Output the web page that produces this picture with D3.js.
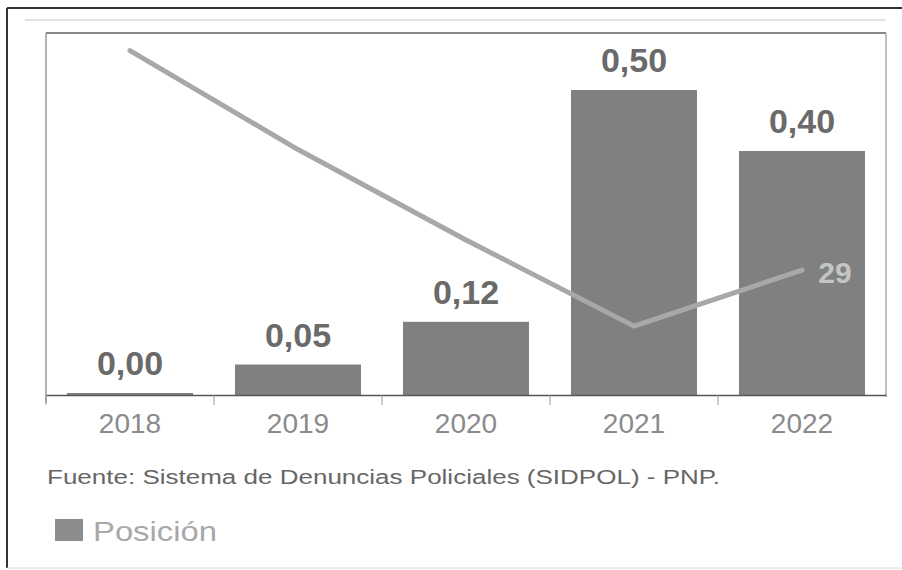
<!DOCTYPE html>
<html><head><meta charset="utf-8">
<script src="https://cdn.jsdelivr.net/npm/d3@7"></script>
<style>html,body{margin:0;padding:0;background:#fff;}svg{display:block;}</style>
</head><body>
<script>
const years = ["2018","2019","2020","2021","2022"];
const tasa = [0.00, 0.05, 0.12, 0.50, 0.40];
const tasaLabels = ["0,00","0,05","0,12","0,50","0,40"];
const posicion = [80, 57, 36, 16, 29];
const posLabelShown = [false, false, false, false, true];
const sourceText = "Fuente: Sistema de Denuncias Policiales (SIDPOL) - PNP.";
const legendText = "Posición";

(function(){
const W = 902, H = 570;
const svg = d3.select("body").append("svg").attr("width", W).attr("height", H);
const font = "'Liberation Sans', Arial, sans-serif";

// outer frame
svg.append("line").attr("x1",7).attr("x2",W).attr("y1",8).attr("y2",8).attr("stroke","#333").attr("stroke-width",2);
svg.append("line").attr("x1",7).attr("x2",7).attr("y1",8).attr("y2",568).attr("stroke","#333").attr("stroke-width",2);
svg.append("line").attr("x1",7).attr("x2",W).attr("y1",568).attr("y2",568).attr("stroke","#ddd").attr("stroke-width",1);
// faint top line
svg.append("line").attr("x1",25).attr("x2",886).attr("y1",20).attr("y2",20).attr("stroke","#d8d8d8").attr("stroke-width",1.5);

const pLeft = 46, pRight = 886, pTop = 29, pBottom = 395;
const x = d3.scaleBand().domain(years).range([pLeft, pRight]).paddingInner(0.25).paddingOuter(0.125);
const y = d3.scaleLinear().domain([0, 0.6]).range([pBottom, pTop]);
const y2 = d3.scaleLinear().domain([0, 85]).range([pBottom, pTop]);

// plot border
svg.append("line").attr("x1",pLeft).attr("x2",pRight).attr("y1",33).attr("y2",33).attr("stroke","#888").attr("stroke-width",2);
svg.append("line").attr("x1",pLeft).attr("x2",pLeft).attr("y1",33).attr("y2",pBottom+8).attr("stroke","#999").attr("stroke-width",1.5);
svg.append("line").attr("x1",pRight).attr("x2",pRight).attr("y1",33).attr("y2",pBottom+2).attr("stroke","#aaa").attr("stroke-width",1.5);

// bars
const data = years.map((yr,i)=>({yr, v:tasa[i], lab:tasaLabels[i], p:posicion[i], show:posLabelShown[i]}));
svg.selectAll("rect.bar").data(data).enter().append("rect").attr("class","bar")
  .attr("x", d=>x(d.yr)).attr("width", x.bandwidth())
  .attr("y", d=>Math.min(y(d.v), pBottom-2)).attr("height", d=>Math.max(pBottom - y(d.v), 2))
  .attr("fill", "#7e817f");

// x axis
const ax = svg.append("g").attr("transform", `translate(0,${pBottom})`)
  .call(d3.axisBottom(x).tickSize(0).tickPadding(0).tickFormat(""));
ax.select(".domain").attr("stroke","#555").attr("stroke-width",1.5);
const step = x.step();
const sepX = years.map((yr,i)=> pLeft + i*step);
svg.selectAll("line.sep").data(sepX).enter().append("line")
  .attr("x1",d=>d).attr("x2",d=>d).attr("y1",pBottom).attr("y2",pBottom+10)
  .attr("stroke","#999").attr("stroke-width",1);
svg.selectAll("text.xl").data(years).enter().append("text")
  .attr("x", d=>x(d)+x.bandwidth()/2).attr("y", 433)
  .attr("text-anchor","middle").attr("font-family",font).attr("font-size",28)
  .attr("fill","#8a8a8a").text(d=>d);

// line
const line = d3.line().x(d=>x(d.yr)+x.bandwidth()/2).y(d=>y2(d.p));
svg.append("path").datum(data).attr("d", line).attr("fill","none")
  .attr("stroke","#a8a8a8").attr("stroke-width",5).attr("stroke-linecap","round").attr("stroke-linejoin","round");

// bar labels
svg.selectAll("text.bl").data(data).enter().append("text")
  .attr("x", d=>x(d.yr)+x.bandwidth()/2).attr("y", d=>Math.min(y(d.v), pBottom-2)-18)
  .attr("text-anchor","middle").attr("font-family",font).attr("font-size",34).attr("font-weight","bold")
  .attr("fill","#6a6a6a").text(d=>d.lab);

// position label
svg.selectAll("text.pl").data(data.filter(d=>d.show)).enter().append("text")
  .attr("x", d=>x(d.yr)+x.bandwidth()/2+33).attr("y", d=>y2(d.p)+13)
  .attr("text-anchor","middle").attr("font-family",font).attr("font-size",30).attr("font-weight","bold")
  .attr("fill","#c4c4c4").text(d=>d.p);

// source
svg.append("text").attr("x",47).attr("y",484).attr("font-family",font).attr("font-size",20)
  .attr("fill","#666").attr("textLength",673).attr("lengthAdjust","spacingAndGlyphs").text(sourceText);

// legend
svg.append("rect").attr("x",55).attr("y",519).attr("width",28).attr("height",22).attr("fill","#8c8c8c");
svg.append("text").attr("x",93).attr("y",541).attr("font-family",font).attr("font-size",27)
  .attr("fill","#a8a8a8").attr("textLength",124).attr("lengthAdjust","spacingAndGlyphs").text(legendText);
})();
</script>
</body></html>
